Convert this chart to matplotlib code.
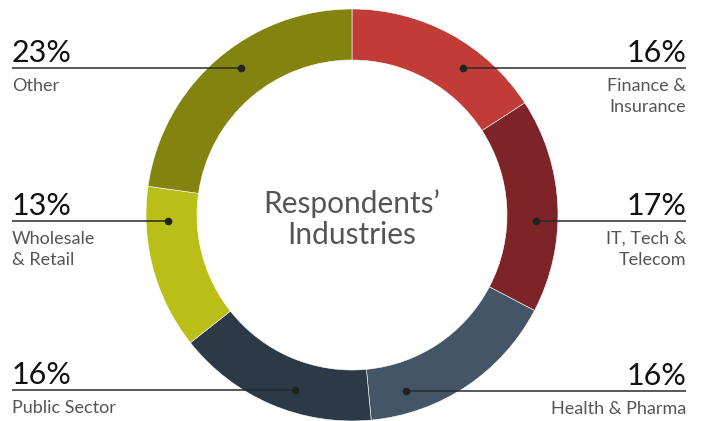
import matplotlib.pyplot as plt
import numpy as np

# Respondents by industry, clockwise from 12 o'clock
industries = ["Finance &\nInsurance", "IT, Tech &\nTelecom", "Health & Pharma",
              "Public Sector", "Wholesale\n& Retail", "Other"]
shares = [16, 17, 16, 16, 13, 23]
colors = ["#c13b37", "#7e2428", "#435566", "#2c3a47", "#b9bf16", "#83840f"]

# which side of the ring each callout goes to, and the row (pixels from top)
sides = ["right", "right", "right", "left", "left", "left"]
rows = [68, 221, 391, 390, 221, 68]

W, H = 704, 421
cx, cy = 352, H - 215
r_out, ring = 206, 51

plt.rcParams["font.family"] = ["Lato", "DejaVu Sans"]

fig = plt.figure(figsize=(W / 100, H / 100), dpi=100)
ax = fig.add_axes([0, 0, 1, 1])

ax.pie(shares, colors=colors, startangle=90, counterclock=False,
       center=(cx, cy), radius=r_out, frame=True,
       wedgeprops=dict(width=ring, edgecolor="white", linewidth=0.4))
ax.set_xlim(0, W)
ax.set_ylim(0, H)
ax.set_aspect("equal")
ax.axis("off")

# callout dots sit where each leader line crosses the ring
r_dot = 184
for name, pct, side, row in zip(industries, shares, sides, rows):
    y = H - row
    dy = y - cy
    dx = np.sqrt(max(r_dot ** 2 - dy ** 2, 0))
    if side == "right":
        x_dot, x_end, ha = cx + dx, 686, "right"
    else:
        x_dot, x_end, ha = cx - dx, 12, "left"
    ax.plot([x_end, x_dot], [y, y], color="#2a2a2a", lw=1.1, solid_capstyle="butt")
    ax.plot(x_dot, y, "o", color="#222222", ms=4.5)
    ax.text(x_end, y + 6, f"{pct}%", ha=ha, va="baseline", fontsize=22,
            color="#111111")
    ax.text(x_end, y - 10, name, ha=ha, va="top", fontsize=13,
            color="#555555", linespacing=1.35, multialignment=ha)

ax.text(cx, H - 219, "Respondents’\nIndustries", ha="center", va="center",
        fontsize=21.5, color="#555555", linespacing=1.12)

fig.savefig("out.png", dpi=100)
